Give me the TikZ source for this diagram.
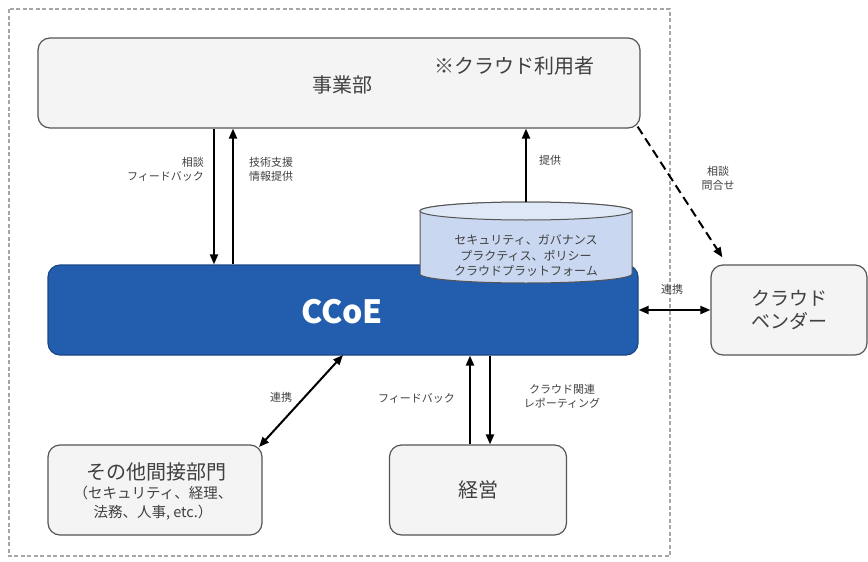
\documentclass[tikz,border=0pt]{standalone}
\usepackage{fontspec}
\setmainfont{Noto Sans CJK JP}
\usetikzlibrary{arrows.meta,calc}
\definecolor{boxfill}{HTML}{F4F4F4}
\definecolor{boxline}{HTML}{555555}
\definecolor{ccoefill}{HTML}{235DAD}
\definecolor{ccoeline}{HTML}{1B4785}
\definecolor{cylfill}{HTML}{C9D8F0}
\definecolor{txtgray}{HTML}{404040}
\tikzset{
  box/.style={draw=boxline, fill=boxfill, line width=1.2pt, rounded corners=12pt, inner sep=0pt, align=center, text=txtgray},
  lbl/.style={font=\fontsize{11}{14}\selectfont, text=txtgray, inner sep=1pt, align=center},
  arr/.style={line width=2pt, -{Triangle[length=10pt,width=8pt]}},
  barr/.style={line width=2pt, {Triangle[length=10pt,width=8pt]}-{Triangle[length=10pt,width=8pt]}},
}
\begin{document}
\begin{tikzpicture}[x=1pt,y=-1pt]
\useasboundingbox (0,0) rectangle (868,562);
% outer dashed frame
\draw[gray!70, line width=1.3pt, dash pattern=on 4pt off 2.5pt] (9,9) rectangle (670,556);

% boxes
\node[box, minimum width=602pt, minimum height=90pt] (jigyo) at (339,83) {};
\node[text=txtgray, font=\fontsize{20}{22}\selectfont, inner sep=0pt] (jigyotxt) at (342,85) {事業部};
\node[text=txtgray, font=\fontsize{20}{22}\selectfont, inner sep=0pt] (user) at (514,66) {※クラウド利用者};

\node[draw=ccoeline, fill=ccoefill, line width=1.2pt, rounded corners=12pt, minimum width=590pt, minimum height=90pt] (ccoe) at (343,310) {};
\node[text=white, font=\bfseries\fontsize{32}{36}\selectfont, inner sep=0pt] (ccoetxt) at (342,312) {CCoE};

% cylinder
\fill[cylfill, draw=boxline, line width=1pt] (420,211) -- (420,274) arc[start angle=180, end angle=0, x radius=106, y radius=9] -- (632,211) arc[start angle=360, end angle=180, x radius=106, y radius=9] -- cycle;
\draw[boxline, line width=1pt, fill=cylfill!60!white] (526,211) ellipse[x radius=106, y radius=9];
\node[lbl, font=\fontsize{12}{15.5}\selectfont] (cyl) at (526,256) {セキュリティ、ガバナンス\\プラクティス、ポリシー\\クラウドプラットフォーム};
\coordinate (cyltop) at (526,202);

\node[box, minimum width=156pt, minimum height=90pt, font=\fontsize{19}{23}\selectfont] (vendor) at (789,310) {クラウド\\ベンダー};
\node[box, minimum width=214pt, minimum height=90pt] (other) at (155,490) {};
\node[text=txtgray, font=\fontsize{20}{22}\selectfont, inner sep=0pt] (other1) at (156,472) {その他間接部門};
\node[text=txtgray, font=\fontsize{14.5}{19.5}\selectfont, inner sep=0pt, align=center] (other2) at (153,503) {（セキュリティ、経理、\\法務、人事, etc.）};
\node[box, minimum width=177pt, minimum height=90pt, font=\fontsize{20}{22}\selectfont] (keiei) at (478,490) {経営};

% arrows
\draw[arr] (jigyo.south -| 214,0) -- (ccoe.north -| 214,0);
\draw[arr] (ccoe.north -| 233,0) -- (jigyo.south -| 233,0);
\node[lbl, anchor=east, align=right] (l1) at (205,169) {相談\\フィードバック};
\node[lbl, anchor=west, align=left] (l2) at (248,169) {技術支援\\情報提供};

\draw[arr] (cyltop) -- (jigyo.south -| cyltop);
\node[lbl, anchor=west] (l3) at (538,160) {提供};

\draw[arr, dash pattern=on 9pt off 5pt] ($(jigyo.south east)+(-3,-2)$) -- ($(vendor.north west)+(12,-7)$);
\node[lbl] (l4) at (718,178) {相談\\問合せ};

\draw[barr] (ccoe.east) -- (vendor.west);
\node[lbl] (l5) at (672,289) {連携};

\draw[barr] (343,355) -- (259,447);
\node[lbl] (l6) at (281,397) {連携};

\draw[arr] (keiei.north -| 470,0) -- (ccoe.south -| 470,0);
\draw[arr] (ccoe.south -| 490,0) -- (keiei.north -| 490,0);
\node[lbl, anchor=east] (l7) at (456,398) {フィードバック};
\node[lbl] (l8) at (562,396) {クラウド関連\\レポーティング};
\end{tikzpicture}
\end{document}
